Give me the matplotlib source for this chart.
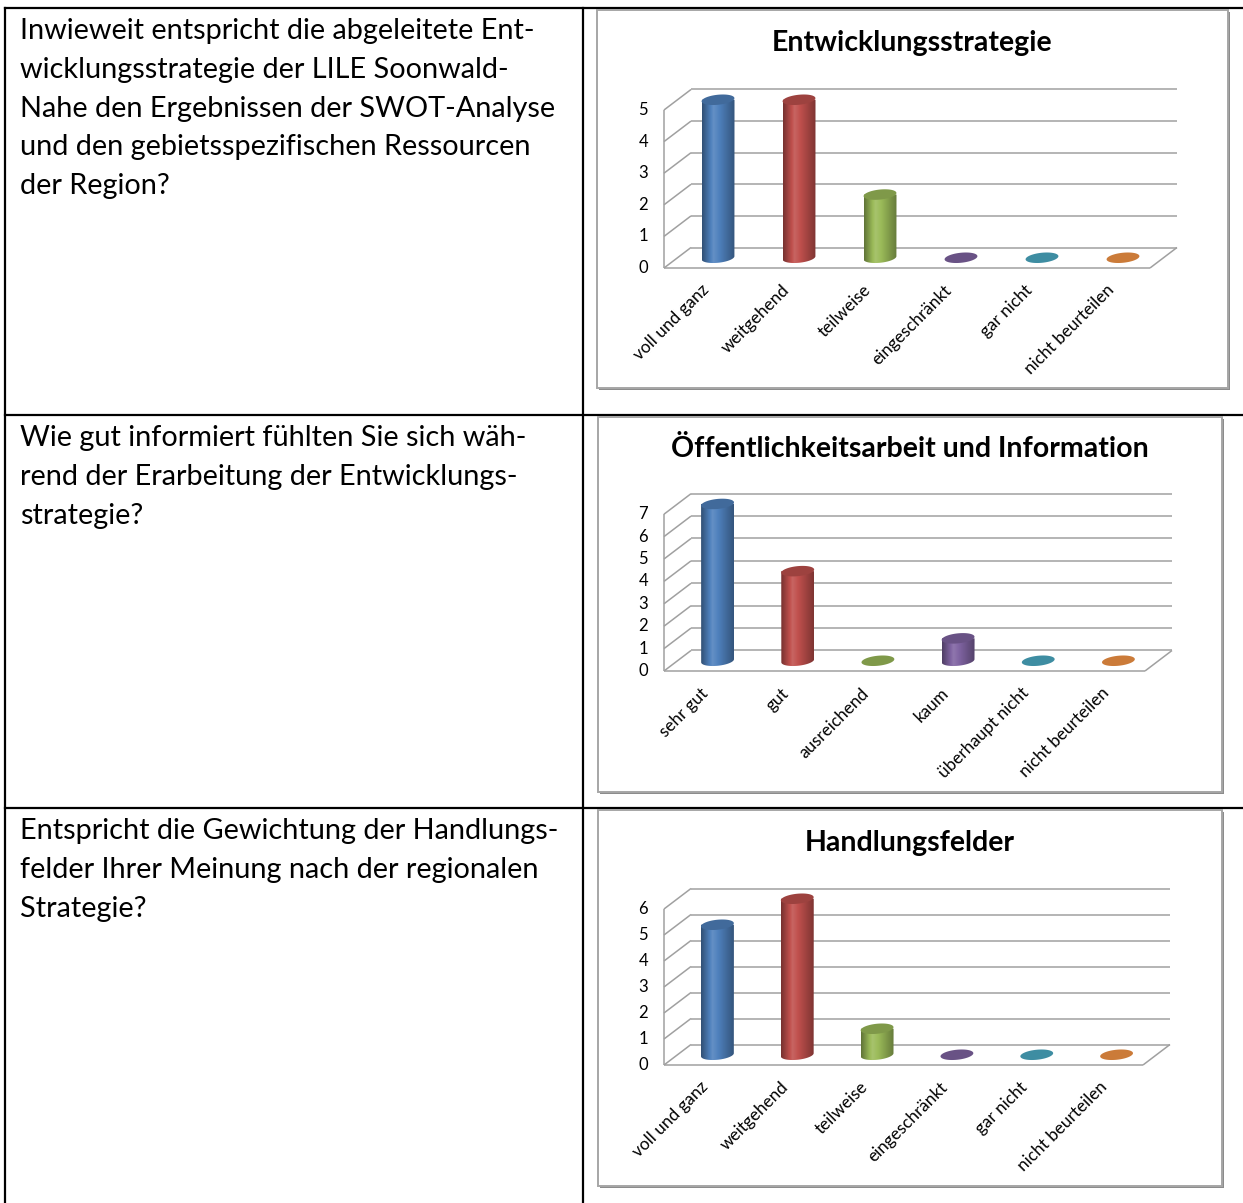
import numpy as np
import matplotlib.pyplot as plt
from matplotlib.patches import Rectangle, Polygon
from matplotlib.colors import to_rgb

plt.rcParams['font.family'] = ['Lato', 'DejaVu Sans']

# ── Data ──────────────────────────────────────────────────────────────────────
cats_strategy = ["voll und ganz", "weitgehend", "teilweise",
                 "eingeschränkt", "gar nicht", "nicht beurteilen"]
vals_strategy = [5, 5, 2, 0, 0, 0]

cats_info = ["sehr gut", "gut", "ausreichend",
             "kaum", "überhaupt nicht", "nicht beurteilen"]
vals_info = [7, 4, 0, 1, 0, 0]

cats_fields = ["voll und ganz", "weitgehend", "teilweise",
               "eingeschränkt", "gar nicht", "nicht beurteilen"]
vals_fields = [5, 6, 1, 0, 0, 0]

questions = [
    ["Inwieweit entspricht die abgeleitete Ent-",
     "wicklungsstrategie der LILE Soonwald-",
     "Nahe den Ergebnissen der SWOT-Analyse",
     "und den gebietsspezifischen Ressourcen",
     "der Region?"],
    ["Wie gut informiert fühlten Sie sich wäh-",
     "rend der Erarbeitung der Entwicklungs-",
     "strategie?"],
    ["Entspricht die Gewichtung der Handlungs-",
     "felder Ihrer Meinung nach der regionalen",
     "Strategie?"],
]

PALETTE = ["#4F81BD", "#C0504D", "#9BBB59", "#8064A2", "#4BACC6", "#F79646"]

# ── Page / table layout (pixels) ──────────────────────────────────────────────
W, H = 1243, 1203
ROW_TOPS = [8, 415, 808]
COL_X = 583

fig = plt.figure(figsize=(W / 100, H / 100), dpi=100)
page = fig.add_axes([0, 0, 1, 1])
page.set_xlim(0, W)
page.set_ylim(H, 0)
page.axis("off")

lw_table = 1.6
page.plot([5, W], [ROW_TOPS[0]] * 2, color="black", lw=lw_table)
for y in ROW_TOPS[1:]:
    page.plot([5, W], [y, y], color="black", lw=lw_table)
page.plot([5, 5], [ROW_TOPS[0], H], color="black", lw=lw_table)
page.plot([COL_X, COL_X], [ROW_TOPS[0], H], color="black", lw=lw_table)

for top, lines in zip(ROW_TOPS, questions):
    for k, line in enumerate(lines):
        page.text(20, top + 31 + k * 38.8, line, fontsize=20.8,
                  va="baseline", ha="left", color="black")


def shade(c, k):
    c = np.array(to_rgb(c))
    if k < 1:
        return c * k
    return c + (1 - c) * (k - 1)


def ellipse_pts(cx, cy, a_px, b_px, sx, sy, ang=6, half=None):
    if half == "lower":
        t = np.linspace(np.pi, 2 * np.pi, 40)
    else:
        t = np.linspace(0, 2 * np.pi, 80)
    th = np.deg2rad(ang)
    px = a_px * np.cos(t)
    py = b_px * np.sin(t)
    rx = px * np.cos(th) - py * np.sin(th)
    ry = px * np.sin(th) + py * np.cos(th)
    return np.column_stack([cx + rx / sx, cy + ry / sy])


def draw_chart(frame, floor_x, floor_y, px_unit, ymax, title, title_y, cats, vals):
    fx0, fy0, fx1, fy1 = frame
    # frame with soft shadow
    page.add_patch(Rectangle((fx0 + 2, fy0 + 2), fx1 - fx0, fy1 - fy0,
                             facecolor="#8c8c8c", edgecolor="none", zorder=1))
    page.add_patch(Rectangle((fx0, fy0), fx1 - fx0, fy1 - fy0,
                             facecolor="white", edgecolor="#a6a6a6", lw=1.4, zorder=2))
    page.text((fx0 + fx1) / 2, title_y, title, fontsize=20.5, fontweight="bold",
              ha="center", va="center", zorder=3)

    n = len(cats)
    sx = (floor_x[1] - floor_x[0]) / n
    ax = fig.add_axes([fx0 / W, 1 - fy1 / H, (fx1 - fx0) / W, (fy1 - fy0) / H])
    ax.set_zorder(5)
    ax.patch.set_alpha(0)
    ax.axis("off")
    ddx = 27 / sx
    ddy = 20.5 / px_unit
    grid = dict(color="#a0a0a0", lw=1.1, solid_capstyle="butt")

    # back wall, left wall, floor
    for v in range(ymax + 1):
        ax.plot([ddx, n + ddx], [v + ddy, v + ddy], **grid)
        ax.plot([0, ddx], [v, v + ddy], **grid)
    ax.plot([0, 0], [0, ymax], **grid)
    ax.plot([0, n], [0, 0], **grid)
    ax.plot([n, n + ddx], [0, ddy], **grid)

    # y tick labels
    for v in range(ymax + 1):
        ax.text(-16 / sx, v, str(v), ha="right", va="center", fontsize=12)

    # cylinders
    a_px, b_px = 16.5, 5.0
    for i, (v, c) in enumerate(zip(vals, PALETTE)):
        cx = i + 0.5 + ddx / 2
        base = ddy / 2
        top = v + ddy / 2
        a = a_px / sx
        if v > 0:
            lower = ellipse_pts(cx, base, a_px, b_px, sx, px_unit, half="lower")
            body = np.vstack([[[cx - a, top]], lower, [[cx + a, top]]])
            clip = Polygon(body, closed=True, facecolor="none", edgecolor="none")
            ax.add_patch(clip)
            u = np.linspace(0, 1, 64)
            k = np.interp(u, [0, 0.35, 1], [0.62, 1.12, 0.66])
            grad = np.array([[shade(c, kk) for kk in k]])
            im = ax.imshow(grad, extent=(cx - a, cx + a, base - 1.5 * b_px / px_unit, top),
                           aspect="auto", origin="lower", interpolation="bilinear", zorder=3)
            im.set_clip_path(clip)
        topel = ellipse_pts(cx, top, a_px, b_px, sx, px_unit)
        ax.add_patch(Polygon(topel, closed=True, facecolor=shade(c, 0.82),
                             edgecolor="none", zorder=4))

    # category labels
    for i, lab in enumerate(cats):
        ax.text(i + 0.5 - 4 / sx, -14 / px_unit, lab, rotation=45, rotation_mode="anchor",
                ha="right", va="top", fontsize=12.3)

    ax.set_xlim((fx0 - floor_x[0]) / sx, (fx1 - floor_x[0]) / sx)
    ax.set_ylim((floor_y - fy1) / px_unit, (floor_y - fy0) / px_unit)


draw_chart((597, 10, 1228, 388), (664, 1150), 268, 31.6, 5,
           "Entwicklungsstrategie", 43, cats_strategy, vals_strategy)
draw_chart((598, 417, 1222, 792), (664, 1145), 671, 22.4, 7,
           "Öffentlichkeitsarbeit und Information", 449, cats_info, vals_info)
draw_chart((598, 810, 1222, 1186), (664, 1143), 1065, 26.0, 6,
           "Handlungsfelder", 843, cats_fields, vals_fields)

fig.savefig("out.png", dpi=100)
